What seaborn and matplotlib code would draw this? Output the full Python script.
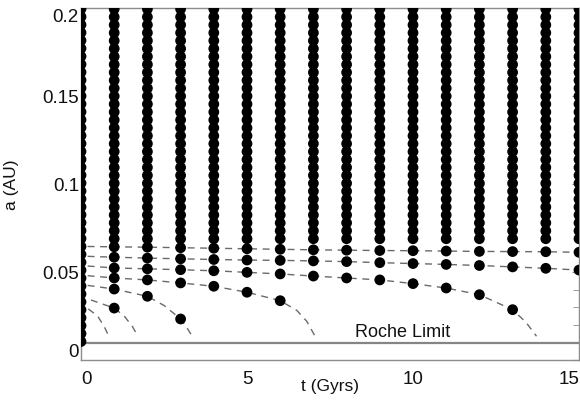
import matplotlib
matplotlib.use("Agg")
import matplotlib.pyplot as plt
import numpy as np
import pandas as pd
import seaborn as sns

sns.set_style("white")
plt.rcParams['font.family'] = ['Liberation Sans', 'DejaVu Sans']

# ---------------- data ----------------
column_times = [1, 2, 3, 4, 5, 6, 7, 8, 9, 10, 11, 12, 13, 14, 15]

# initial semi-major axes (t = 0 column)
initial_a = [0.0105, 0.0150, 0.0195, 0.0240, 0.0285, 0.0330, 0.0375, 0.0420,
             0.0465, 0.0510, 0.0555, 0.0600, 0.0645, 0.0690, 0.0735, 0.0780,
             0.0825, 0.0870, 0.0915, 0.0960, 0.1005, 0.1050, 0.1095, 0.1140,
             0.1185, 0.1230, 0.1275, 0.1320, 0.1365, 0.1410, 0.1455, 0.1500,
             0.1545, 0.1590, 0.1635, 0.1680, 0.1725, 0.1770, 0.1815, 0.1860,
             0.1905, 0.1950, 0.1995]

# outer planets (negligible decay) present in every later column
upper_a = [0.0689, 0.0734, 0.0779, 0.0824, 0.0869, 0.0914, 0.0959, 0.1004,
           0.1049, 0.1094, 0.1139, 0.1184, 0.1229, 0.1274, 0.1319, 0.1364,
           0.1409, 0.1454, 0.1499, 0.1544, 0.1589, 0.1634, 0.1679, 0.1724,
           0.1769, 0.1814, 0.1859, 0.1904, 0.1949, 0.1994]

# decaying orbits (dashed tracks)
track6_t = [0.2, 1, 2, 3, 4, 5, 6, 7, 8, 9, 10, 11, 12, 13, 14, 15]
track6_a = [0.0645, 0.0643, 0.0641, 0.0638, 0.0635, 0.0632, 0.0629, 0.0626,
            0.0624, 0.0622, 0.0621, 0.0619, 0.0617, 0.0616, 0.0615, 0.0612]

track5_t = [0.2, 1, 2, 3, 4, 5, 6, 7, 8, 9, 10, 11, 12, 13, 14, 15]
track5_a = [0.0589, 0.0584, 0.0579, 0.0575, 0.0571, 0.0568, 0.0566, 0.0563,
            0.0559, 0.0553, 0.0548, 0.0543, 0.0537, 0.0529, 0.0521, 0.0511]

track4_t = [0.2, 1, 2, 3, 4, 5, 6, 7, 8, 9, 10, 11, 12, 13, 13.4, 13.72]
track4_a = [0.0534, 0.0523, 0.0518, 0.0513, 0.0507, 0.0498, 0.0489, 0.0477,
            0.0466, 0.0455, 0.0434, 0.0409, 0.0371, 0.0286, 0.0215, 0.0135]

track3_t = [0.2, 1, 2, 3, 4, 5, 6, 6.5, 6.8, 7.05]
track3_a = [0.0479, 0.0466, 0.0455, 0.0438, 0.0419, 0.0385, 0.0337, 0.0282,
            0.0220, 0.0135]

track2_t = [0.2, 1, 2, 2.5, 3, 3.2, 3.36]
track2_a = [0.0424, 0.0403, 0.0362, 0.0310, 0.0233, 0.0180, 0.0132]

track1_t = [0.3, 1, 1.3, 1.55, 1.72]
track1_a = [0.0341, 0.0295, 0.0250, 0.0190, 0.0132]

track0_t = [0.22, 0.5, 0.7, 0.87]
track0_a = [0.0290, 0.0250, 0.0190, 0.0122]

roche_a = 0.0097
roche_label = "Roche Limit"
roche_label_t = 9.7
roche_label_a = 0.0160

x_ticks = [0, 5, 10, 15]
x_ticklabels = ["0", "5", "10", "15"]
y_ticks = [0, 0.05, 0.1, 0.15, 0.2]
y_ticklabels = ["0", "0.05", "0.1", "0.15", "0.2"]
y_minor = [0.01, 0.02, 0.03, 0.04]

tracks = [(track6_t, track6_a), (track5_t, track5_a), (track4_t, track4_a),
          (track3_t, track3_a), (track2_t, track2_a), (track1_t, track1_a),
          (track0_t, track0_a)]

# ---------------- build point table ----------------
rows = [(0.0, a) for a in initial_a]
for t in column_times:
    rows += [(float(t), a) for a in upper_a]
for tt, aa in tracks:
    for t, a in zip(tt, aa):
        if float(t).is_integer() and t >= 1:
            rows.append((float(t), a))
dots = pd.DataFrame(rows, columns=["t", "a"])

# ---------------- figure ----------------
fig = plt.figure(figsize=(5.8, 4.06), dpi=100)
ax = fig.add_axes([81 / 580, 1 - 361 / 406, 498 / 580, 352 / 406])

gray = "#8c8c8c"

for i, (tt, aa) in enumerate(tracks):
    df = pd.DataFrame({"t": tt, "a": aa})
    sns.lineplot(data=df, x="t", y="a", ax=ax, sort=False, estimator=None,
                 color="#6a6a6a", lw=1.0, linestyle=(0, (5, 4)), zorder=2)

ax.axhline(roche_a, color="#858585", lw=1.6, zorder=2)

sns.scatterplot(data=dots, x="t", y="a", ax=ax, s=60, color="black",
                edgecolor="none", linewidth=0, zorder=3, clip_on=True)

ax.text(roche_label_t, roche_label_a, roche_label, ha="center", va="center",
        fontsize=13, color="#111111")

ax.set_xlim(0, 15)
ax.set_ylim(0, 0.2)

ax.set_xticks(x_ticks)
ax.set_xticks(column_times, minor=True)
ax.set_yticks(y_ticks)
ax.set_yticks(y_minor, minor=True)
ax.set_xticklabels(x_ticklabels)
ax.set_yticklabels(y_ticklabels)

ax.tick_params(axis="both", which="both", direction="in", top=True,
               right=True, color=gray, labelcolor="#111111", labelsize=13.5)
ax.tick_params(axis="x", which="major", length=6, pad=7)
ax.tick_params(axis="x", which="minor", length=4)
ax.tick_params(axis="y", which="major", length=5, pad=1.5)
ax.tick_params(axis="y", which="minor", length=4)

xl = ax.get_xticklabels()
xl[0].set_ha("left")
xl[-1].set_ha("right")
yl = ax.get_yticklabels()
yl[0].set_va("bottom")
yl[-1].set_va("top")

for sp in ax.spines.values():
    sp.set_color(gray)
    sp.set_linewidth(1.0)
    sp.set_visible(True)

ax.set_xlabel("t (Gyrs)", fontsize=12.5, color="#111111")
ax.set_ylabel("a (AU)", fontsize=12.5, color="#111111")
ax.xaxis.set_label_coords(0.5, -0.052)
ax.yaxis.set_label_coords(-0.125, 0.5)

fig.savefig("out.png", dpi=100)
